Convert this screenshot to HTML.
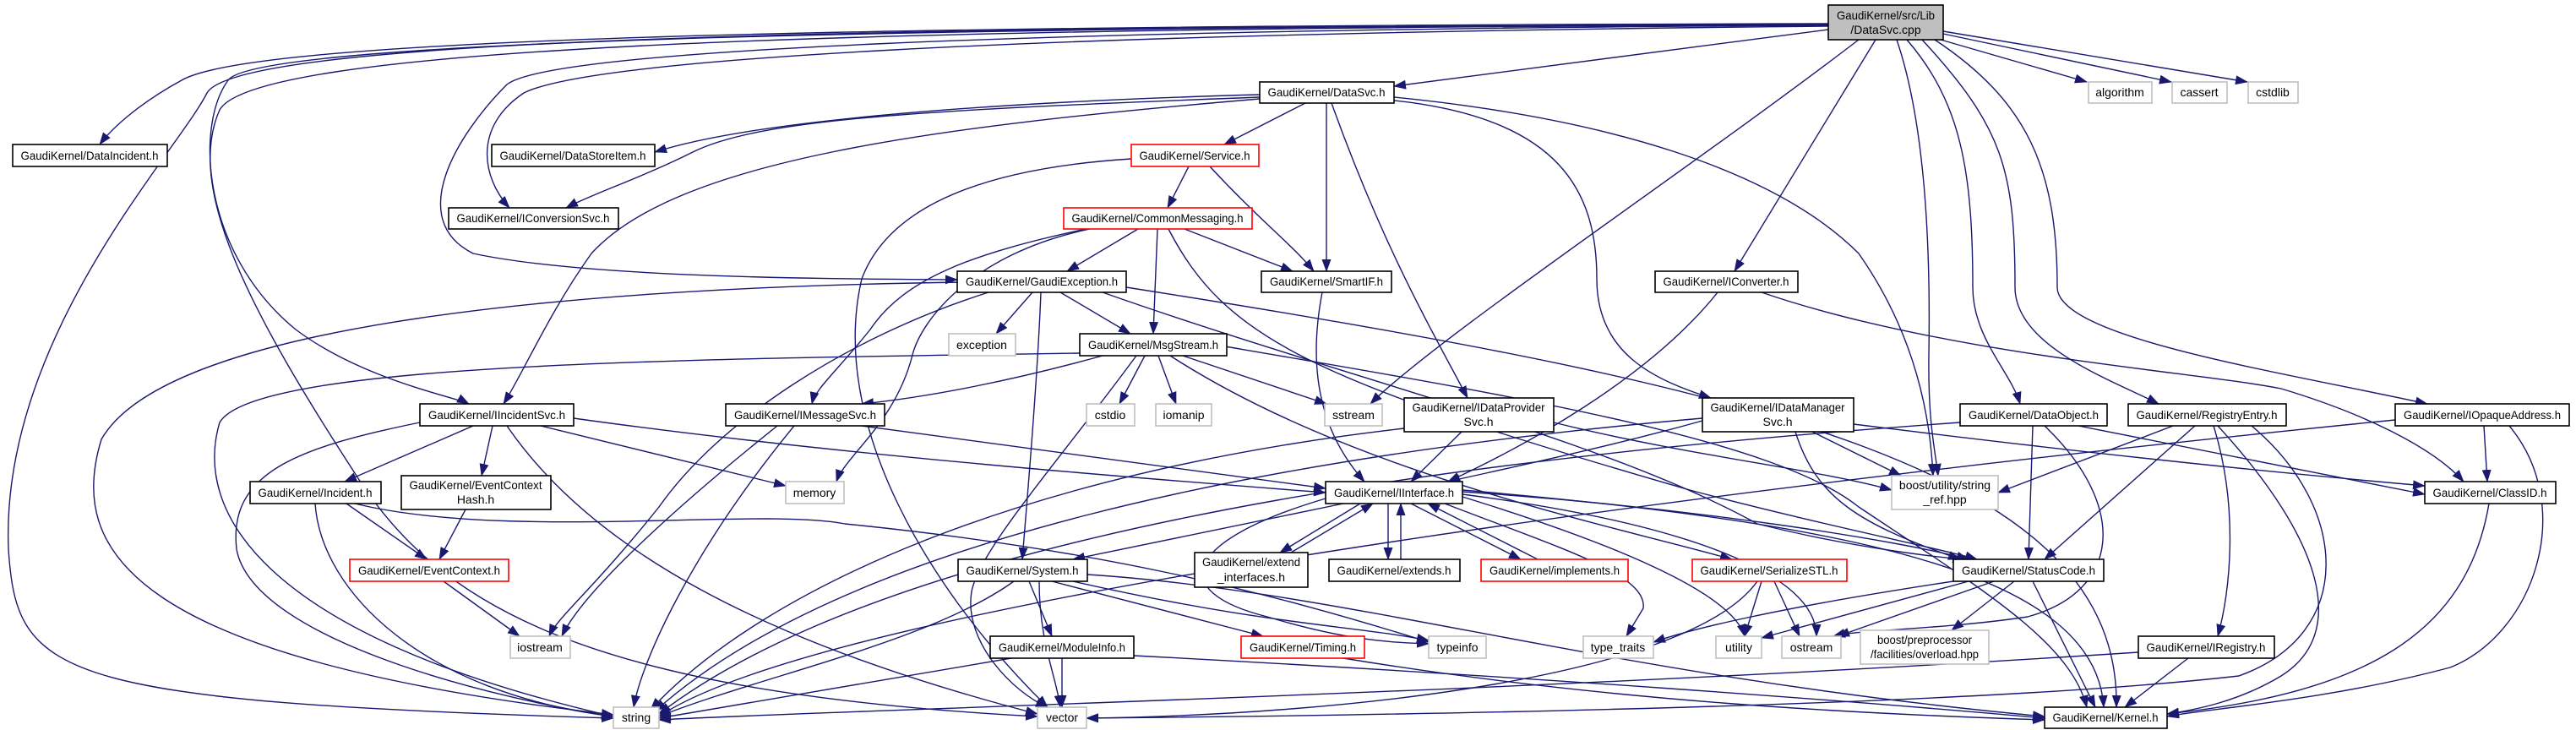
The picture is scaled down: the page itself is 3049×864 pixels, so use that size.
<!DOCTYPE html>
<html><head><meta charset="utf-8"><style>
html,body{margin:0;padding:0;background:#fff;}
svg{display:block;}
text{font-family:"Liberation Sans",sans-serif;font-size:14px;fill:#000;text-anchor:middle;}
.e{fill:none;stroke:#191970;stroke-width:1.4;marker-end:url(#a);}
.n rect{fill:#fff;stroke:#000;stroke-width:1.6;}
.g rect{fill:#fff;stroke:#bfbfbf;stroke-width:1.6;}
.r rect{fill:#fff;stroke:#ff0000;stroke-width:1.6;}
</style></head><body>
<svg width="3049" height="864" viewBox="0 0 3049 864" xmlns="http://www.w3.org/2000/svg">
<defs><marker id="a" markerUnits="userSpaceOnUse" markerWidth="15" markerHeight="11" refX="14" refY="5.5" orient="auto"><path d="M0,0 L15,5.5 L0,11 z" fill="#191970"/></marker></defs>
<g>
<path class="e" d="M2164,28 C1000,30 300,45 215,95 C160,125 130,155 118,171"/>
<path class="e" d="M2164,29 C1000,32 300,50 270,95 C230,150 240,300 350,390 C430,450 540,470 555,478"/>
<path class="e" d="M2164,30 C1200,35 650,60 600,100 C540,160 480,260 560,300 C700,330 1000,330 1133,331"/>
<path class="e" d="M2164,31 C1200,40 700,70 620,110 C560,150 570,210 603,246"/>
<path class="e" d="M1491,115 C1100,130 900,140 820,180 C760,210 700,230 670,246"/>
<path class="e" d="M1491,112 C1200,120 900,140 775,180"/>
<path class="e" d="M2164,35 L1650,102"/>
<path class="e" d="M2164,30 C900,30 280,50 245,110 C210,180 0,400 10,650 C20,800 60,830 726,850"/>
<path class="e" d="M2164,30 C900,32 300,60 260,130 C220,220 290,360 420,560 C520,720 700,820 1228,848"/>
<path class="e" d="M2200,47 C2000,200 1700,400 1622,478"/>
<path class="e" d="M2220,47 L2053,321"/>
<path class="e" d="M2245,47 C2280,150 2285,300 2283,420 C2282,500 2290,530 2294,563"/>
<path class="e" d="M2257,47 C2320,120 2335,200 2335,340 C2335,400 2380,440 2391,478"/>
<path class="e" d="M2275,47 C2370,150 2385,200 2385,340 C2385,410 2500,450 2555,478"/>
<path class="e" d="M2290,47 C2400,120 2435,200 2435,340 C2435,400 2700,440 2873,478"/>
<path class="e" d="M2297,47 L2470,97"/>
<path class="e" d="M2300,40 L2570,97"/>
<path class="e" d="M2300,37 L2660,97"/>
<path class="e" d="M1545,122 L1449,171"/>
<path class="e" d="M1570,122 L1570,321"/>
<path class="e" d="M1576,122 C1640,300 1700,400 1737,471"/>
<path class="e" d="M1650,119 C1850,140 1890,230 1890,330 C1890,420 1960,450 2025,471"/>
<path class="e" d="M1650,115 C1900,140 2100,200 2200,300 C2270,400 2285,500 2288,563"/>
<path class="e" d="M1491,117 C1100,150 800,190 700,300 C650,370 620,440 596,478"/>
<path class="e" d="M1407,197 L1382,246"/>
<path class="e" d="M1432,197 C1490,260 1530,290 1555,321"/>
<path class="e" d="M1339,188 C1150,200 1050,250 1020,330 C980,500 1100,700 1240,837"/>
<path class="e" d="M1347,271 L1263,321"/>
<path class="e" d="M1370,271 L1365,395"/>
<path class="e" d="M1402,271 L1530,321"/>
<path class="e" d="M1285,271 C1150,300 1070,330 1030,390 C990,440 965,460 961,478"/>
<path class="e" d="M1290,271 C1150,300 1090,380 1080,420 C1060,500 1000,540 990,570"/>
<path class="e" d="M1383,271 C1450,400 1550,450 2000,580 C2150,620 2300,650 2340,662"/>
<path class="e" d="M1222,346 L1179,395"/>
<path class="e" d="M1255,346 L1338,395"/>
<path class="e" d="M1232,346 C1228,450 1215,600 1210,662"/>
<path class="e" d="M1170,346 C1000,400 850,500 780,600 C700,700 660,730 650,753"/>
<path class="e" d="M1140,334 C700,340 200,380 120,520 C80,650 150,780 726,846"/>
<path class="e" d="M1333,340 C2100,460 2510,560 2505,837"/>
<path class="e" d="M1305,346 C1600,450 1900,520 2080,620 C2200,650 2300,660 2325,662"/>
<path class="e" d="M1565,346 C1545,450 1570,520 1615,570"/>
<path class="e" d="M2033,346 C1950,450 1800,530 1714,570"/>
<path class="e" d="M1730,511 L1670,570"/>
<path class="e" d="M2085,346 C2300,420 2600,440 2700,460 C2800,490 2880,530 2916,570"/>
<path class="e" d="M1305,421 C1200,450 1100,470 1020,478"/>
<path class="e" d="M1278,418 C800,425 300,430 260,500 C230,600 300,750 726,848"/>
<path class="e" d="M1345,421 C1250,550 1160,650 1150,700 C1140,760 1200,820 1240,837"/>
<path class="e" d="M1355,421 L1325,478"/>
<path class="e" d="M1371,421 L1392,478"/>
<path class="e" d="M1400,421 L1570,478"/>
<path class="e" d="M1385,421 C1600,560 1900,620 2050,662"/>
<path class="e" d="M1450,410 C1800,470 2100,520 2200,600 C2350,700 2450,760 2470,837"/>
<path class="e" d="M560,504 L408,570"/>
<path class="e" d="M583,504 L570,563"/>
<path class="e" d="M640,504 L930,575"/>
<path class="e" d="M679,495 C1000,540 1400,570 1569,583"/>
<path class="e" d="M497,500 C350,530 270,560 280,650 C300,760 600,830 726,848"/>
<path class="e" d="M600,504 C700,650 900,760 1228,845"/>
<path class="e" d="M1020,504 L1569,578"/>
<path class="e" d="M940,504 C820,650 760,780 750,837"/>
<path class="e" d="M920,504 C800,600 690,700 665,753"/>
<path class="e" d="M1662,507 C1200,560 900,700 770,840"/>
<path class="e" d="M1839,500 C2000,540 2150,555 2239,580"/>
<path class="e" d="M2015,498 C1900,530 1780,555 1714,570"/>
<path class="e" d="M2015,495 C1500,540 1000,640 775,842"/>
<path class="e" d="M2194,502 C2500,540 2700,560 2870,575"/>
<path class="e" d="M2145,511 L2250,563"/>
<path class="e" d="M2125,511 C2150,590 2200,620 2320,662"/>
<path class="e" d="M2406,504 L2401,662"/>
<path class="e" d="M2460,504 L2870,585"/>
<path class="e" d="M2420,504 C2520,600 2510,700 2400,730 C2300,745 2200,745 2170,753"/>
<path class="e" d="M2320,500 C1900,530 1100,600 780,845"/>
<path class="e" d="M2620,504 C2650,600 2640,700 2625,753"/>
<path class="e" d="M2598,504 L2420,662"/>
<path class="e" d="M2625,504 C2750,640 2780,750 2700,800 C2650,830 2600,840 2565,845"/>
<path class="e" d="M2572,504 L2365,583"/>
<path class="e" d="M2665,504 C2780,600 2790,750 2650,800 C2300,840 1500,848 1286,850"/>
<path class="e" d="M2940,504 L2944,570"/>
<path class="e" d="M2970,504 C3050,600 3000,750 2900,790 C2750,830 2600,840 2565,848"/>
<path class="e" d="M2835,497 C2200,560 1000,700 780,848"/>
<path class="e" d="M2946,596 C2920,750 2800,820 2565,845"/>
<path class="e" d="M410,596 L505,662"/>
<path class="e" d="M373,596 C380,700 500,820 726,848"/>
<path class="e" d="M420,596 C600,640 900,600 1000,620 C1300,650 1500,700 1691,760"/>
<path class="e" d="M551,603 L520,662"/>
<path class="e" d="M525,688 L615,753"/>
<path class="e" d="M1590,596 L1270,662"/>
<path class="e" d="M1610,596 L1515,654"/>
<path class="e" d="M1528,654 L1625,596"/>
<path class="e" d="M1643,596 L1643,662"/>
<path class="e" d="M1658,662 L1658,596"/>
<path class="e" d="M1670,596 L1800,662"/>
<path class="e" d="M1820,662 L1690,596"/>
<path class="e" d="M1569,590 C1400,640 1380,700 1500,730 C1600,760 1650,760 1691,762"/>
<path class="e" d="M1710,596 C1850,650 1950,680 1945,720 L1925,753"/>
<path class="e" d="M1731,582 C2000,600 2250,640 2330,662"/>
<path class="e" d="M1731,585 C2000,620 2150,680 2150,753"/>
<path class="e" d="M1731,580 C2200,620 2480,680 2490,837"/>
<path class="e" d="M1731,588 C1900,640 2050,700 2065,753"/>
<path class="e" d="M1218,688 L1245,753"/>
<path class="e" d="M1245,688 L1495,753"/>
<path class="e" d="M1270,688 C1500,740 1600,740 1691,758"/>
<path class="e" d="M1230,688 C1230,760 1250,800 1255,837"/>
<path class="e" d="M1287,680 C1600,700 1900,800 2420,848"/>
<path class="e" d="M1200,688 C1100,760 900,800 780,848"/>
<path class="e" d="M1257,779 L1257,837"/>
<path class="e" d="M1197,779 L780,850"/>
<path class="e" d="M1342,776 C1800,800 2200,830 2420,850"/>
<path class="e" d="M1590,779 C1900,830 2200,845 2420,852"/>
<path class="e" d="M2085,688 L2065,753"/>
<path class="e" d="M2100,688 L2130,753"/>
<path class="e" d="M2080,688 C2000,800 1600,846 1286,850"/>
<path class="e" d="M2330,688 L2085,755"/>
<path class="e" d="M2360,688 L2175,753"/>
<path class="e" d="M2384,688 L2310,746"/>
<path class="e" d="M2312,688 C2100,720 2000,745 1957,760"/>
<path class="e" d="M2406,688 L2480,837"/>
<path class="e" d="M2590,779 L2515,837"/>
<path class="e" d="M2531,772 C1800,820 1000,840 780,852"/>
</g>

<g class="n"><rect x="2164" y="6" width="136" height="41" style="fill:#bfbfbf"/><text x="2232" y="23" textLength="116" lengthAdjust="spacingAndGlyphs">GaudiKernel/src/Lib</text><text x="2232" y="40">/DataSvc.cpp</text></g>
<g class="n"><rect x="1491" y="97" width="159" height="25"/><text x="1570" y="114" textLength="139" lengthAdjust="spacingAndGlyphs">GaudiKernel/DataSvc.h</text></g>
<g class="g"><rect x="2472" y="97" width="75" height="25"/><text x="2509" y="114">algorithm</text></g>
<g class="g"><rect x="2571" y="97" width="65" height="25"/><text x="2603" y="114">cassert</text></g>
<g class="g"><rect x="2661" y="97" width="59" height="25"/><text x="2690" y="114">cstdlib</text></g>
<g class="n"><rect x="15" y="171" width="183" height="26"/><text x="106" y="189" textLength="163" lengthAdjust="spacingAndGlyphs">GaudiKernel/DataIncident.h</text></g>
<g class="n"><rect x="582" y="171" width="193" height="26"/><text x="678" y="189" textLength="173" lengthAdjust="spacingAndGlyphs">GaudiKernel/DataStoreItem.h</text></g>
<g class="r"><rect x="1339" y="171" width="151" height="26"/><text x="1414" y="189" textLength="131" lengthAdjust="spacingAndGlyphs">GaudiKernel/Service.h</text></g>
<g class="n"><rect x="531" y="246" width="201" height="25"/><text x="631" y="263" textLength="181" lengthAdjust="spacingAndGlyphs">GaudiKernel/IConversionSvc.h</text></g>
<g class="r"><rect x="1259" y="246" width="223" height="25"/><text x="1370" y="263" textLength="203" lengthAdjust="spacingAndGlyphs">GaudiKernel/CommonMessaging.h</text></g>
<g class="n"><rect x="1133" y="321" width="200" height="25"/><text x="1233" y="338" textLength="180" lengthAdjust="spacingAndGlyphs">GaudiKernel/GaudiException.h</text></g>
<g class="n"><rect x="1493" y="321" width="154" height="25"/><text x="1570" y="338" textLength="134" lengthAdjust="spacingAndGlyphs">GaudiKernel/SmartIF.h</text></g>
<g class="n"><rect x="1959" y="321" width="169" height="25"/><text x="2043" y="338" textLength="149" lengthAdjust="spacingAndGlyphs">GaudiKernel/IConverter.h</text></g>
<g class="g"><rect x="1123" y="395" width="79" height="26"/><text x="1162" y="413">exception</text></g>
<g class="n"><rect x="1278" y="395" width="174" height="26"/><text x="1365" y="413" textLength="154" lengthAdjust="spacingAndGlyphs">GaudiKernel/MsgStream.h</text></g>
<g class="n"><rect x="497" y="478" width="182" height="26"/><text x="588" y="496" textLength="162" lengthAdjust="spacingAndGlyphs">GaudiKernel/IIncidentSvc.h</text></g>
<g class="n"><rect x="859" y="478" width="188" height="26"/><text x="953" y="496" textLength="168" lengthAdjust="spacingAndGlyphs">GaudiKernel/IMessageSvc.h</text></g>
<g class="g"><rect x="1286" y="478" width="57" height="26"/><text x="1314" y="496">cstdio</text></g>
<g class="g"><rect x="1368" y="478" width="66" height="26"/><text x="1401" y="496">iomanip</text></g>
<g class="g"><rect x="1568" y="478" width="68" height="26"/><text x="1602" y="496">sstream</text></g>
<g class="n"><rect x="1662" y="471" width="177" height="40"/><text x="1750" y="487" textLength="157" lengthAdjust="spacingAndGlyphs">GaudiKernel/IDataProvider</text><text x="1750" y="504">Svc.h</text></g>
<g class="n"><rect x="2015" y="471" width="179" height="40"/><text x="2104" y="487" textLength="159" lengthAdjust="spacingAndGlyphs">GaudiKernel/IDataManager</text><text x="2104" y="504">Svc.h</text></g>
<g class="n"><rect x="2320" y="478" width="174" height="26"/><text x="2407" y="496" textLength="154" lengthAdjust="spacingAndGlyphs">GaudiKernel/DataObject.h</text></g>
<g class="n"><rect x="2519" y="478" width="187" height="26"/><text x="2612" y="496" textLength="167" lengthAdjust="spacingAndGlyphs">GaudiKernel/RegistryEntry.h</text></g>
<g class="n"><rect x="2835" y="478" width="206" height="26"/><text x="2938" y="496" textLength="186" lengthAdjust="spacingAndGlyphs">GaudiKernel/IOpaqueAddress.h</text></g>
<g class="n"><rect x="296" y="570" width="155" height="26"/><text x="373" y="588" textLength="135" lengthAdjust="spacingAndGlyphs">GaudiKernel/Incident.h</text></g>
<g class="n"><rect x="475" y="563" width="177" height="40"/><text x="563" y="579" textLength="157" lengthAdjust="spacingAndGlyphs">GaudiKernel/EventContext</text><text x="563" y="596">Hash.h</text></g>
<g class="g"><rect x="930" y="570" width="69" height="26"/><text x="964" y="588">memory</text></g>
<g class="n"><rect x="1569" y="570" width="162" height="26"/><text x="1650" y="588" textLength="142" lengthAdjust="spacingAndGlyphs">GaudiKernel/IInterface.h</text></g>
<g class="g"><rect x="2239" y="563" width="126" height="40"/><text x="2302" y="579">boost/utility/string</text><text x="2302" y="596">_ref.hpp</text></g>
<g class="n"><rect x="2870" y="570" width="155" height="26"/><text x="2947" y="588" textLength="135" lengthAdjust="spacingAndGlyphs">GaudiKernel/ClassID.h</text></g>
<g class="r"><rect x="414" y="662" width="188" height="26"/><text x="508" y="680" textLength="168" lengthAdjust="spacingAndGlyphs">GaudiKernel/EventContext.h</text></g>
<g class="n"><rect x="1134" y="662" width="153" height="26"/><text x="1210" y="680" textLength="133" lengthAdjust="spacingAndGlyphs">GaudiKernel/System.h</text></g>
<g class="n"><rect x="1414" y="654" width="134" height="41"/><text x="1481" y="670" textLength="116" lengthAdjust="spacingAndGlyphs">GaudiKernel/extend</text><text x="1481" y="688">_interfaces.h</text></g>
<g class="n"><rect x="1573" y="662" width="155" height="26"/><text x="1650" y="680" textLength="135" lengthAdjust="spacingAndGlyphs">GaudiKernel/extends.h</text></g>
<g class="r"><rect x="1753" y="662" width="174" height="26"/><text x="1840" y="680" textLength="154" lengthAdjust="spacingAndGlyphs">GaudiKernel/implements.h</text></g>
<g class="r"><rect x="2003" y="662" width="183" height="26"/><text x="2094" y="680" textLength="163" lengthAdjust="spacingAndGlyphs">GaudiKernel/SerializeSTL.h</text></g>
<g class="n"><rect x="2312" y="662" width="178" height="26"/><text x="2401" y="680" textLength="158" lengthAdjust="spacingAndGlyphs">GaudiKernel/StatusCode.h</text></g>
<g class="g"><rect x="604" y="753" width="71" height="26"/><text x="639" y="771">iostream</text></g>
<g class="n"><rect x="1172" y="753" width="170" height="26"/><text x="1257" y="771" textLength="150" lengthAdjust="spacingAndGlyphs">GaudiKernel/ModuleInfo.h</text></g>
<g class="r"><rect x="1469" y="753" width="146" height="26"/><text x="1542" y="771" textLength="126" lengthAdjust="spacingAndGlyphs">GaudiKernel/Timing.h</text></g>
<g class="g"><rect x="1691" y="753" width="68" height="26"/><text x="1725" y="771">typeinfo</text></g>
<g class="g"><rect x="1874" y="753" width="83" height="26"/><text x="1915" y="771">type_traits</text></g>
<g class="g"><rect x="2031" y="753" width="54" height="26"/><text x="2058" y="771">utility</text></g>
<g class="g"><rect x="2109" y="753" width="70" height="26"/><text x="2144" y="771">ostream</text></g>
<g class="g"><rect x="2202" y="746" width="152" height="40"/><text x="2278" y="762" textLength="112" lengthAdjust="spacingAndGlyphs">boost/preprocessor</text><text x="2278" y="779" textLength="128" lengthAdjust="spacingAndGlyphs">/facilities/overload.hpp</text></g>
<g class="n"><rect x="2531" y="753" width="161" height="26"/><text x="2611" y="771" textLength="141" lengthAdjust="spacingAndGlyphs">GaudiKernel/IRegistry.h</text></g>
<g class="g"><rect x="726" y="837" width="54" height="25"/><text x="753" y="854">string</text></g>
<g class="g"><rect x="1228" y="837" width="58" height="25"/><text x="1257" y="854">vector</text></g>
<g class="n"><rect x="2420" y="837" width="145" height="25"/><text x="2492" y="854" textLength="125" lengthAdjust="spacingAndGlyphs">GaudiKernel/Kernel.h</text></g>
</svg>
</body></html>
